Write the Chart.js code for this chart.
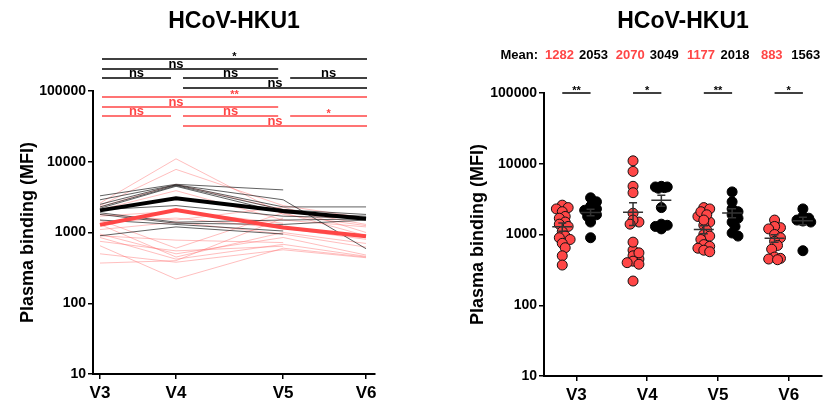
<!DOCTYPE html>
<html>
<head>
<meta charset="utf-8">
<script src="https://cdn.jsdelivr.net/npm/chart.js@4.4.1/dist/chart.umd.min.js"></script>
<style>
html, body { margin: 0; padding: 0; background: #fff; }
#wrap { display: flex; width: 828px; height: 402px; }
canvas { display: block; }
</style>
</head>
<body>
<div id="wrap">
  <canvas id="leftChart" width="414" height="402"></canvas>
  <canvas id="rightChart" width="414" height="402"></canvas>
</div>
<script>
const visits = ['V3', 'V4', 'V5', 'V6'];
const visitPos = [0, 1, 2.41, 3.5];   // uneven spacing on the left panel
const yTicks = [10, 100, 1000, 10000, 100000];

const meanRed = [1282, 2070, 1177, 883];
const meanBlack = [2053, 3049, 2018, 1563];

// one row per subject: V3, V4, V5, V6
const redSubjects = [
  [2600, 11000, 1800, 1250],
  [2400, 7800, 2400, 1600],
  [2300, 4800, 2100, 1300],
  [2100, 3900, 1500, 1200],
  [1800, 1500, 2300, 1000],
  [1700, 2000, 1350, null],
  [1500, 600, 1900, 900],
  [1400, 1600, 1150, 800],
  [1300, 450, 1000, 700],
  [1100, 1400, 950, 620],
  [950, 500, 850, 480],
  [900, 780, 720, null],
  [850, 420, 680, 460],
  [750, 550, 640, null],
  [650, 220, 600, 450],
  [500, 380, 570, 440],
  [370, 400, 1600, null]
];
const blackSubjects = [
  [3300, 4800, 4000, null],
  [2900, 4700, 2900, 590],
  [2500, 4700, 2300, 2300],
  [2300, 4600, 2100, 1800],
  [2200, 4500, 1900, 1700],
  [2100, 2400, 1700, 1600],
  [1900, 1400, 1500, 1550],
  [1800, 1350, 1300, 1500],
  [1500, 1300, 1050, null],
  [900, 1200, 950, null]
];

// comparisons on the left panel: from, to, label, row
const sigBlack = [
  [0, 3, '*', 0], [0, 2, 'ns', 1],
  [0, 1, 'ns', 2], [1, 2, 'ns', 2], [2, 3, 'ns', 2],
  [1, 3, 'ns', 3]
];
const sigRed = [
  [0, 3, '**', 4], [0, 2, 'ns', 5],
  [0, 1, 'ns', 6], [1, 2, 'ns', 6], [2, 3, '*', 6],
  [1, 3, 'ns', 7]
];
const sigRight = ['**', '*', '**', '*'];

const FONT = "'Liberation Sans', Arial, sans-serif";
const RED = '#ff4646';
const PINK = 'rgba(255, 110, 110, 0.45)';
const GRAY = 'rgba(30, 30, 30, 0.7)';

function yAxis(width, titlePad) {
  return {
    type: 'logarithmic',
    min: 10,
    max: 100000,
    afterBuildTicks: s => { s.ticks = yTicks.map(v => ({ value: v })); },
    afterFit: s => { s.width = width; },
    ticks: { callback: v => String(v), color: '#000', padding: 2, autoSkip: false,
             font: { family: FONT, size: 14, weight: 'bold' } },
    grid: { drawOnChartArea: false, drawTicks: true, tickLength: 5, color: '#000', lineWidth: 1.5 },
    border: { color: '#000', width: 2 },
    title: { display: true, text: 'Plasma binding (MFI)', color: '#000', padding: { top: titlePad, bottom: 0 },
             font: { family: FONT, size: 18, weight: 'bold' } }
  };
}

function xAxis(min, max, positions, height) {
  return {
    type: 'linear',
    min: min,
    max: max,
    afterBuildTicks: s => { s.ticks = positions.map(v => ({ value: v })); },
    afterFit: s => { s.height = height; },
    ticks: { callback: v => visits[positions.indexOf(v)], color: '#000', padding: 4, autoSkip: false,
             maxRotation: 0, font: { family: FONT, size: 17, weight: 'bold' } },
    grid: { drawOnChartArea: false, drawTicks: true, tickLength: 5, color: '#000', lineWidth: 1.5 },
    border: { color: '#000', width: 2 }
  };
}

function drawTitle(chart) {
  const ctx = chart.ctx;
  const a = chart.chartArea;
  ctx.save();
  ctx.fillStyle = '#000';
  ctx.font = 'bold 23px ' + FONT;
  ctx.textAlign = 'center';
  ctx.textBaseline = 'middle';
  ctx.fillText('HCoV-HKU1', (a.left + a.right) / 2, 22);
  ctx.restore();
}

function sem(arr) {
  const a = arr.filter(v => v != null);
  const m = a.reduce((s, v) => s + v, 0) / a.length;
  const sd = Math.sqrt(a.reduce((s, v) => s + (v - m) ** 2, 0) / (a.length - 1));
  return sd / Math.sqrt(a.length);
}

// simple beeswarm so the dots of a group do not pile up completely
function swarmOffsets(vals) {
  const ys = vals.map(v => Math.log10(v) * 70.7);
  const idx = ys.map((_, i) => i).sort((a, b) => ys[b] - ys[a]);
  const off = new Array(vals.length).fill(0);
  const done = [];
  const tries = [0, 3, -3, 6, -6, 8, -8];
  idx.forEach(i => {
    let best = 0, bestD = -1;
    for (const t of tries) {
      let d = Infinity;
      done.forEach(j => { d = Math.min(d, Math.hypot(t - off[j], ys[i] - ys[j])); });
      if (d >= 5) { best = t; break; }
      if (d > bestD) { bestD = d; best = t; }
    }
    off[i] = best;
    done.push(i);
  });
  return off.map(o => o / 72);
}

// ---------- left panel ----------
const leftDatasets = [];
redSubjects.forEach(s => leftDatasets.push({
  data: s.map((v, i) => v == null ? null : { x: visitPos[i], y: v }).filter(p => p),
  borderColor: PINK, borderWidth: 1, pointRadius: 0, order: 4
}));
blackSubjects.forEach(s => leftDatasets.push({
  data: s.map((v, i) => v == null ? null : { x: visitPos[i], y: v }).filter(p => p),
  borderColor: GRAY, borderWidth: 1, pointRadius: 0, order: 3
}));
leftDatasets.push({
  data: meanRed.map((v, i) => ({ x: visitPos[i], y: v })),
  borderColor: RED, borderWidth: 4, pointRadius: 0, order: 2
});
leftDatasets.push({
  data: meanBlack.map((v, i) => ({ x: visitPos[i], y: v })),
  borderColor: '#000', borderWidth: 4, pointRadius: 0, order: 1
});

const rowOffsets = [-32, -22, -13, -3, 6, 16, 25, 35];

const leftAnnot = {
  id: 'leftAnnot',
  afterDraw(chart) {
    drawTitle(chart);
    const ctx = chart.ctx;
    const xs = chart.scales.x;
    const y0 = chart.scales.y.getPixelForValue(100000);
    const drawSet = (list, color) => {
      list.forEach(([from, to, label, row]) => {
        const x1 = xs.getPixelForValue(visitPos[from]) + (from === 0 ? 2 : 7);
        const x2 = xs.getPixelForValue(visitPos[to]) + (to === 3 ? 1 : -5);
        const y = y0 + rowOffsets[row];
        ctx.save();
        ctx.strokeStyle = color;
        ctx.lineWidth = 1.5;
        ctx.beginPath();
        ctx.moveTo(x1, y);
        ctx.lineTo(x2, y);
        ctx.stroke();
        ctx.fillStyle = color;
        ctx.textAlign = 'center';
        ctx.textBaseline = 'alphabetic';
        const star = label.indexOf('*') >= 0;
        ctx.font = 'bold ' + (star ? 11 : 13) + 'px ' + FONT;
        let lx = (x1 + x2) / 2;
        if (from === 0 && to === 2) lx = xs.getPixelForValue(visitPos[1]);
        ctx.fillText(label, lx, star ? y + 1 : y - 1);
        ctx.restore();
      });
    };
    drawSet(sigBlack, '#000');
    drawSet(sigRed, RED);
  }
};

new Chart(document.getElementById('leftChart'), {
  type: 'line',
  data: { datasets: leftDatasets },
  options: {
    responsive: false,
    animation: false,
    devicePixelRatio: 1,
    layout: { padding: { top: 91, right: 39, left: 0, bottom: 0 } },
    plugins: { legend: { display: false }, tooltip: { enabled: false } },
    scales: {
      x: xAxis(-0.092, 3.618, visitPos, 28),
      y: yAxis(93, 17)
    }
  },
  plugins: [leftAnnot]
});

// ---------- right panel ----------
const catPos = [1, 2, 3, 4];
const redPoints = [];
const blackPoints = [];
visits.forEach((v, c) => {
  const rv = redSubjects.map(s => s[c]).filter(x => x != null);
  const ro = swarmOffsets(rv);
  rv.forEach((val, i) => redPoints.push({ x: catPos[c] - 0.2 + ro[i], y: val }));
  const bv = blackSubjects.map(s => s[c]).filter(x => x != null);
  const bo = swarmOffsets(bv);
  bv.forEach((val, i) => blackPoints.push({ x: catPos[c] + 0.2 + bo[i], y: val }));
});

const rightAnnot = {
  id: 'rightAnnot',
  afterDraw(chart) {
    drawTitle(chart);
    const ctx = chart.ctx;
    const xs = chart.scales.x;
    const ys = chart.scales.y;
    const y0 = ys.getPixelForValue(100000);
    ctx.save();
    // mean and SEM bars
    ctx.strokeStyle = '#333';
    ctx.lineWidth = 1.5;
    visits.forEach((v, c) => {
      [[-0.2, meanRed[c], sem(redSubjects.map(s => s[c]))],
       [0.2, meanBlack[c], sem(blackSubjects.map(s => s[c]))]].forEach(([o, m, e]) => {
        const cx = xs.getPixelForValue(catPos[c] + o);
        const ym = ys.getPixelForValue(m);
        const yt = ys.getPixelForValue(m + e);
        const yb = ys.getPixelForValue(m - e);
        ctx.beginPath();
        ctx.moveTo(cx - 10, ym); ctx.lineTo(cx + 10, ym);
        ctx.moveTo(cx, yt); ctx.lineTo(cx, yb);
        ctx.moveTo(cx - 4, yt); ctx.lineTo(cx + 4, yt);
        ctx.moveTo(cx - 4, yb); ctx.lineTo(cx + 4, yb);
        ctx.stroke();
      });
    });
    // significance
    ctx.strokeStyle = '#000';
    ctx.fillStyle = '#000';
    ctx.textAlign = 'center';
    ctx.font = 'bold 11px ' + FONT;
    sigRight.forEach((s, c) => {
      const x1 = xs.getPixelForValue(catPos[c] - 0.2);
      const x2 = xs.getPixelForValue(catPos[c] + 0.2);
      ctx.beginPath();
      ctx.moveTo(x1, y0); ctx.lineTo(x2, y0);
      ctx.stroke();
      ctx.fillText(s, (x1 + x2) / 2, y0 + 1);
    });
    // mean row
    const ym = y0 - 38;
    ctx.font = 'bold 13px ' + FONT;
    ctx.textBaseline = 'middle';
    ctx.textAlign = 'right';
    ctx.fillStyle = '#000';
    ctx.fillText('Mean:', 124, ym);
    ctx.textAlign = 'center';
    visits.forEach((v, c) => {
      ctx.fillStyle = RED;
      ctx.fillText(String(meanRed[c]), xs.getPixelForValue(catPos[c] - 0.24), ym);
      ctx.fillStyle = '#000';
      ctx.fillText(String(meanBlack[c]), xs.getPixelForValue(catPos[c] + 0.24), ym);
    });
    ctx.restore();
  }
};

new Chart(document.getElementById('rightChart'), {
  type: 'scatter',
  data: {
    datasets: [
      { data: redPoints, backgroundColor: RED, borderColor: '#111', borderWidth: 1, pointRadius: 5 },
      { data: blackPoints, backgroundColor: '#000', borderColor: '#000', borderWidth: 1, pointRadius: 5 }
    ]
  },
  options: {
    responsive: false,
    animation: false,
    devicePixelRatio: 1,
    layout: { padding: { top: 93, right: 1, left: 0, bottom: 0 } },
    plugins: { legend: { display: false }, tooltip: { enabled: false } },
    scales: {
      x: xAxis(0.542, 4.47, catPos, 26),
      y: yAxis(130, 53)
    }
  },
  plugins: [rightAnnot]
});
</script>
</body>
</html>
